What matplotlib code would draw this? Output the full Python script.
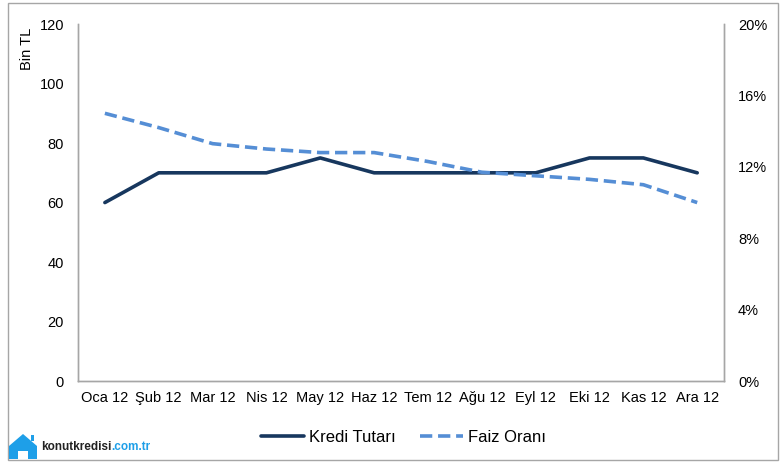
import matplotlib.pyplot as plt
from matplotlib.patches import Polygon, Rectangle
from matplotlib.ticker import FuncFormatter

# Données
months = ['Oca 12', 'Şub 12', 'Mar 12', 'Nis 12', 'May 12', 'Haz 12',
          'Tem 12', 'Ağu 12', 'Eyl 12', 'Eki 12', 'Kas 12', 'Ara 12']
kredi_tutari = [60, 70, 70, 70, 75, 70, 70, 70, 70, 75, 75, 70]        # Bin TL
faiz_orani = [15.0, 14.2, 13.3, 13.0, 12.8, 12.8, 12.3, 11.7, 11.5, 11.3, 11.0, 10.0]  # %

plt.rcParams['font.family'] = ['Liberation Sans', 'DejaVu Sans']

W, H = 782, 463
fig = plt.figure(figsize=(W / 100, H / 100), dpi=100, facecolor='white')
ax = fig.add_axes([0.0997, 0.177, 0.8263, 0.771])
ax2 = ax.twinx()

x = range(len(months))
l1, = ax.plot(x, kredi_tutari, color='#17375E', linewidth=2.6, label='Kredi Tutarı',
              solid_capstyle='round', zorder=3)
l2, = ax2.plot(x, faiz_orani, color='#558ED5', linewidth=2.6, linestyle=(0, (3.4, 1.6)),
               label='Faiz Oranı', zorder=2)

ax.set_xlim(-0.5, len(months) - 0.5)
ax.set_ylim(0, 120)
ax.set_yticks(range(0, 121, 20))
ax2.set_ylim(0, 20)
ax2.set_yticks(range(0, 21, 4))
ax2.yaxis.set_major_formatter(FuncFormatter(lambda v, p: f'{v:.0f}%'))
ax.set_xticks(list(x))
ax.set_xticklabels(months)

for a in (ax, ax2):
    a.tick_params(length=0, labelsize=10.5, colors='black')
    for s in a.spines.values():
        s.set_color('#A6A6A6')
        s.set_linewidth(1)
    a.spines['top'].set_visible(False)
ax.tick_params(axis='y', pad=10)
ax2.tick_params(axis='y', pad=10)
ax.tick_params(axis='x', pad=7)

ax.set_ylabel('Bin TL', fontsize=10.5)
ax.yaxis.set_label_coords(-0.068, 0.93)

fig.legend(handles=[l1, l2], loc='center', bbox_to_anchor=(0.516, 0.056), ncol=2,
           frameon=False, fontsize=12, handlelength=2.6, columnspacing=1.4,
           handletextpad=0.3)

# Cadre gris autour de l'image
fig.patches.append(Rectangle((8 / W, 3 / H), 770 / W, 457 / H, transform=fig.transFigure,
                             fill=False, edgecolor='#A6A6A6', linewidth=1))

# Logo konutkredisi.com.tr (icône maison simplifiée)
def px(pts):
    return [(u / W, 1 - v / H) for u, v in pts]

house = Polygon(px([(9, 459), (9, 446), (23, 434), (37, 446), (37, 459), (28, 459), (28, 451),
                    (18, 451), (18, 459)]), closed=True, transform=fig.transFigure,
                facecolor='#1E9FE8', edgecolor='none')
fig.patches.append(house)
fig.patches.append(Rectangle((31 / W, 1 - 441 / H), 3 / W, 6 / H, transform=fig.transFigure,
                             facecolor='#1E9FE8', edgecolor='none'))
t1 = fig.text(41 / W, 1 - 447 / H, 'konutkredisi', fontsize=8.5, fontweight='bold',
              color='#222222', va='center', ha='left')
ax.annotate('.com.tr', xy=(1, 0.5), xycoords=t1, va='center', ha='left',
            fontsize=8.5, fontweight='bold', color='#1E9FE8', annotation_clip=False)

plt.savefig('out.png', dpi=100)
